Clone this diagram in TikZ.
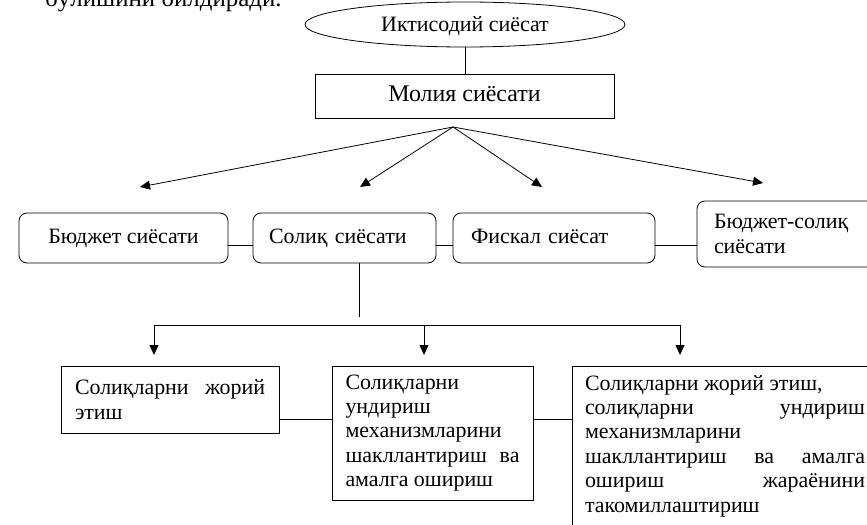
\documentclass[tikz,border=0pt]{standalone}
\usepackage{fontspec}
\setmainfont{Liberation Serif}
\usetikzlibrary{arrows.meta,shapes.geometric}

\begin{document}
\begin{tikzpicture}[scale=0.3528]
				\tikzstyle{every node}+=[inner sep=0pt, font=\fontsize{22}{24.5}\selectfont]
				\tikzstyle{oneline}=[text height=15bp, text depth=5bp]
				\tikzstyle{sqbox}=[draw, black, line width=0.8pt]
				\tikzstyle{rbox}=[draw, black, line width=0.8pt, rounded corners=8bp, align=left]
				\tikzstyle{link}=[black, line width=0.8pt]
				\tikzstyle{arr}=[black, line width=0.8pt, -{Triangle[length=10bp,width=9bp]}]
				\useasboundingbox (0,0) rectangle (86.7,-52.5);
				\node [anchor=base west, font=\fontsize{25}{28}\selectfont] (intro) at (4.5,-0.65) {бўлишини билдиради.};
				\node [draw, ellipse, text height=15bp, text depth=0bp, line width=0.8pt, minimum width=320bp, minimum height=45bp] (econ) at (46.5,-2.45) {Иктисодий сиёсат};
				\node [sqbox, oneline, minimum width=299bp, minimum height=44bp, font=\fontsize{24}{30}\selectfont] (moliya) at (46.45,-9.6) {Молия сиёсати};
				\draw [link] (econ.south) -- (econ.south |- moliya.north);
				\coordinate (fan) at (45.3,-12.7);
				\coordinate (tipA) at (14.0,-18.7);
				\coordinate (tipB) at (36.0,-18.7);
				\coordinate (tipC) at (54.2,-18.7);
				\coordinate (tipD) at (76.3,-18.3);
				\foreach \t in {tipA,tipB,tipC,tipD}
					\draw [arr] (fan) -- (\t);
				\node [rbox, oneline, minimum width=209bp, minimum height=50bp] (budget) at (12.35,-23.8) {Бюджет сиёсати};
				\node [rbox, oneline, minimum width=183bp, minimum height=50bp, text width=151bp] (solik) at (34.45,-23.8) {Солиқ сиёсати};
				\node [rbox, oneline, minimum width=202bp, minimum height=50bp, text width=166bp] (fiskal) at (55.4,-23.8) {Фискал сиёсат};
				\node [rbox, minimum width=188bp, minimum height=66bp, text width=154bp] (bsolik) at (79.1,-23.4) {Бюджет-солиқ\\ сиёсати};
				\coordinate (row2) at (0,-24.55);
				\draw [link] (budget.east |- row2) -- (solik.west |- row2);
				\draw [link] (solik.east |- row2) -- (fiskal.west |- row2);
				\draw [link] (fiskal.east |- row2) -- (bsolik.west |- row2);
				\coordinate (stem) at (35.9,-31.7);
				\draw [link] (solik.south -| stem) -- (stem);
				\coordinate (busL) at (15.4,-32.5);
				\coordinate (busR) at (68.0,-32.5);
				\draw [link] (busL) -- (busR);
				\coordinate (dropA) at (15.4,-35.5);
				\coordinate (dropB) at (42.4,-35.5);
				\coordinate (dropC) at (68.0,-35.5);
				\foreach \d in {dropA,dropB,dropC}
					\draw [arr] (\d |- busL) -- (\d);
				\node [sqbox, minimum width=218bp, minimum height=67bp, text width=190bp, align=justify] (tax1) at (17.0,-39.95) {Солиқларни жорий\linebreak этиш};
				\node [sqbox, minimum width=201bp, minimum height=134bp, text width=174bp, align=justify] (tax2) at (43.25,-43.3) {Солиқларни\newline ундириш\newline механизмларини\newline шакллантириш ва\linebreak амалга ошириш};
				\node [sqbox, minimum width=306bp, minimum height=160bp, text width=280bp, align=justify] (tax3) at (72.5,-44.6) {Солиқларни жорий этиш,\newline солиқларни ундириш\linebreak механизмларини\newline шакллантириш ва амалга\linebreak ошириш жараёнини\linebreak такомиллаштириш};
				\coordinate (row3) at (0,-41.95);
				\draw [link] (tax1.east |- row3) -- (tax2.west |- row3);
				\draw [link] (tax2.east |- row3) -- (tax3.west |- row3);
			\end{tikzpicture}
\end{document}
